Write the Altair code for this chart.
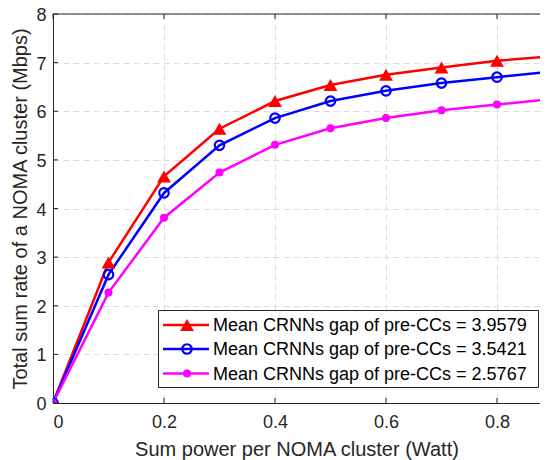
import altair as alt
import pandas as pd

power = [0.0, 0.1, 0.2, 0.3, 0.4, 0.5, 0.6, 0.7, 0.8, 0.9]
rate_red = [0.0, 2.89, 4.66, 5.64, 6.21, 6.54, 6.75, 6.90, 7.04, 7.13]
rate_blue = [0.0, 2.64, 4.32, 5.30, 5.86, 6.21, 6.42, 6.58, 6.70, 6.82]
rate_mag = [0.0, 2.27, 3.81, 4.74, 5.31, 5.65, 5.86, 6.02, 6.14, 6.25]
labels = [
    "Mean CRNNs gap of pre-CCs = 3.9579",
    "Mean CRNNs gap of pre-CCs = 3.5421",
    "Mean CRNNs gap of pre-CCs = 2.5767",
]
colors = ["#ff0000", "#0000ff", "#ff00ff"]
x_ticks = [0, 0.2, 0.4, 0.6, 0.8]
y_ticks = [0, 1, 2, 3, 4, 5, 6, 7, 8]

FONT = "Liberation Sans, Arial, Helvetica, sans-serif"
W, H = 487, 389
AX = "#262626"

rows = []
for lab, vals in zip(labels, [rate_red, rate_blue, rate_mag]):
    for p, v in zip(power, vals):
        rows.append({"x": p, "y": v, "s": lab})
df = pd.DataFrame(rows)

xs = alt.Scale(domain=[0, 0.8775], nice=False, zero=False)
ys = alt.Scale(domain=[0, 8], nice=False)
col = alt.Scale(domain=labels, range=colors)

xax = alt.Axis(values=x_ticks, format="~g", title="Sum power per NOMA cluster (Watt)",
               grid=True, gridDash=[6, 4], gridColor="#dcdcdc", gridWidth=1,
               domainColor=AX, domainWidth=1, ticks=False,
               labelFont=FONT, labelFontSize=18, labelColor=AX, labelPadding=10,
               titleFont=FONT, titleFontSize=20, titleFontWeight="normal", titleColor=AX,
               titlePadding=8)
yax = alt.Axis(values=y_ticks, format="~g", title="Total sum rate of a NOMA cluster (Mbps)",
               grid=True, gridDash=[6, 4], gridColor="#dcdcdc", gridWidth=1,
               domainColor=AX, domainWidth=1, ticks=False,
               labelFont=FONT, labelFontSize=18, labelColor=AX, labelPadding=7,
               labelOffset=1.5,
               titleFont=FONT, titleFontSize=20, titleFontWeight="normal", titleColor=AX,
               titlePadding=5)

base = alt.Chart(df)
lines = base.mark_line(strokeWidth=2.5, clip=True).encode(
    x=alt.X("x:Q", scale=xs, axis=xax),
    y=alt.Y("y:Q", scale=ys, axis=yax),
    color=alt.Color("s:N", scale=col, legend=None),
    detail="s:N",
)

shapes = {labels[0]: ("triangle-up", True, 190), labels[1]: ("circle", False, 90), labels[2]: ("circle", True, 65)}
pts = []
for lab, c in zip(labels, colors):
    shp, filled, size = shapes[lab]
    d = df[df.s == lab]
    pts.append(alt.Chart(d).mark_point(shape=shp, filled=filled, size=size, color=c,
                                       strokeWidth=2.2, opacity=1, clip=True).encode(
        x=alt.X("x:Q", scale=xs), y=alt.Y("y:Q", scale=ys)))

# frame top line and inward ticks
xt = pd.DataFrame({"x": x_ticks})
yt = pd.DataFrame({"y": y_ticks})
one = pd.DataFrame({"k": [0]})
top_line = alt.Chart(one).mark_rule(color=AX, strokeWidth=1).encode(
    x=alt.value(0), x2=alt.value(W), y=alt.value(0))
tick_bot = alt.Chart(xt).mark_rule(color=AX, strokeWidth=1).encode(
    x=alt.X("x:Q", scale=xs), y=alt.value(H), y2=alt.value(H - 5))
tick_top = alt.Chart(xt).mark_rule(color=AX, strokeWidth=1).encode(
    x=alt.X("x:Q", scale=xs), y=alt.value(0), y2=alt.value(5))
tick_left = alt.Chart(yt).mark_rule(color=AX, strokeWidth=1).encode(
    y=alt.Y("y:Q", scale=ys), x=alt.value(0), x2=alt.value(5))

# manual legend
leg = [alt.Chart(one).mark_rect(fill="white", stroke=AX, strokeWidth=1).encode(
    x=alt.value(105.5), x2=alt.value(485.5), y=alt.value(296.5), y2=alt.value(373.5))]
row_y = [311, 335, 359.5]
for lab, c, ry in zip(labels, colors, row_y):
    shp, filled, size = shapes[lab]
    leg.append(alt.Chart(one).mark_rule(color=c, strokeWidth=2.5).encode(
        x=alt.value(110), x2=alt.value(156), y=alt.value(ry)))
    leg.append(alt.Chart(one).mark_point(shape=shp, filled=filled, size=size, color=c,
                                         strokeWidth=2.2, opacity=1).encode(
        x=alt.value(134), y=alt.value(ry)))
    leg.append(alt.Chart(one).mark_text(align="left", baseline="middle", font=FONT,
                                        fontSize=18, color="black").encode(
        x=alt.value(160), y=alt.value(ry + 1), text=alt.value(lab)))

chart = alt.layer(lines, *pts, top_line, tick_bot, tick_top, tick_left, *leg).properties(
    width=W, height=H,
    autosize=alt.AutoSizeParams(type="none"),
    padding={"left": 45, "top": 6, "right": 0, "bottom": 57},
    background="white",
).configure_view(stroke=None)

chart.save("out.html", embed_options={"renderer": "svg", "actions": False})
